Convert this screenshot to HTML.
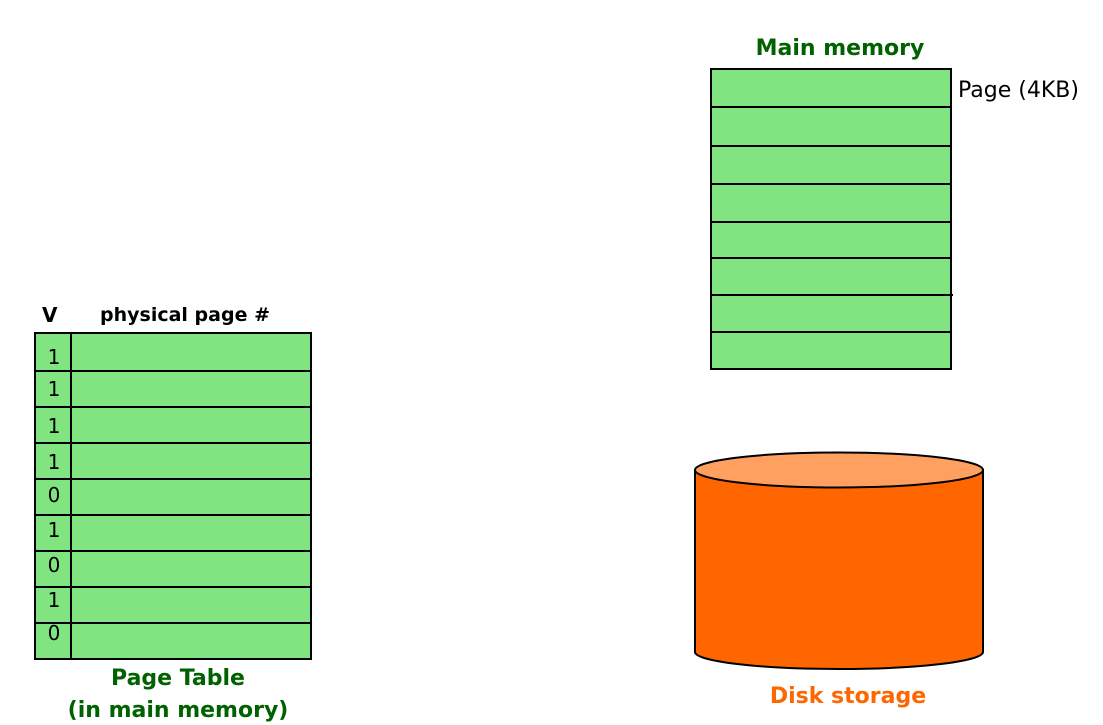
<!DOCTYPE html>
<html><head><style>body{margin:0;background:#fff}svg{display:block}text{font-family:"DejaVu Sans","Liberation Sans",sans-serif}</style></head><body>
<svg width="1103" height="725" viewBox="0 0 1103 725" xmlns="http://www.w3.org/2000/svg">
<text x="840" y="55" text-anchor="middle" font-size="22" font-weight="bold" fill="#006100">Main memory</text>
<rect x="711" y="69" width="240" height="300" fill="#80e580" stroke="#000" stroke-width="2"/>
<g stroke="#000" stroke-width="2">
<line x1="711" y1="107" x2="951" y2="107"/><line x1="711" y1="146" x2="951" y2="146"/>
<line x1="711" y1="184" x2="951" y2="184"/><line x1="711" y1="222" x2="951" y2="222"/>
<line x1="711" y1="258" x2="951" y2="258"/><line x1="711" y1="295" x2="953" y2="295"/>
<line x1="711" y1="332" x2="951" y2="332"/>
</g>
<text x="958" y="97" font-size="22" fill="#000">Page (4KB)</text>
<text x="42" y="322" font-size="20" font-weight="bold">V</text>
<text x="100" y="321" font-size="19" font-weight="bold">physical page #</text>
<rect x="35" y="333" width="276" height="326" fill="#80e580" stroke="#000" stroke-width="2"/>
<g stroke="#000" stroke-width="2">
<line x1="71" y1="333" x2="71" y2="659"/>
<line x1="35" y1="371" x2="311" y2="371"/><line x1="35" y1="407" x2="311" y2="407"/>
<line x1="35" y1="443" x2="311" y2="443"/><line x1="35" y1="479" x2="311" y2="479"/>
<line x1="35" y1="515" x2="311" y2="515"/><line x1="35" y1="551" x2="311" y2="551"/>
<line x1="35" y1="587" x2="311" y2="587"/><line x1="35" y1="623" x2="311" y2="623"/>
</g>
<g font-size="20" text-anchor="middle" fill="#000">
<text x="54" y="364">1</text><text x="54" y="396">1</text><text x="54" y="433">1</text>
<text x="54" y="469">1</text><text x="54" y="502">0</text><text x="54" y="537">1</text>
<text x="54" y="572">0</text><text x="54" y="607">1</text><text x="54" y="640">0</text>
</g>
<text x="178" y="685" text-anchor="middle" font-size="22" font-weight="bold" fill="#006100">Page Table</text>
<text x="178" y="717" text-anchor="middle" font-size="22" font-weight="bold" fill="#006100">(in main memory)</text>
<path d="M695 470 L695 652 A144 17 0 0 0 983 652 L983 470 Z" fill="#ff6600" stroke="#000" stroke-width="2"/>
<ellipse cx="839" cy="470" rx="144" ry="17.5" fill="#ffa060" stroke="#000" stroke-width="2"/>
<text x="848" y="703" text-anchor="middle" font-size="22" font-weight="bold" fill="#ff6600">Disk storage</text>
</svg>
</body></html>
